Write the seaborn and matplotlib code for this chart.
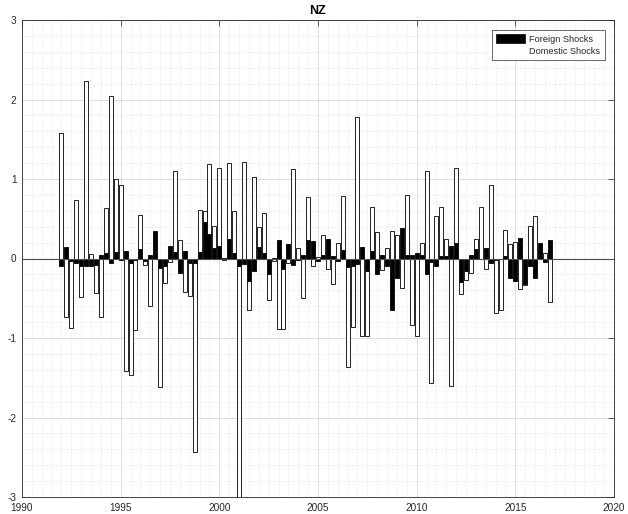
import numpy as np
import pandas as pd
import matplotlib
matplotlib.use("Agg")
import matplotlib.pyplot as plt
import seaborn as sns
from matplotlib.ticker import MultipleLocator, FixedLocator
from matplotlib.patches import Patch

# ---------------- data ----------------
title = "NZ"
legend_labels = ["Foreign Shocks", "Domestic Shocks"]
first_quarter = "1992Q1"
last_quarter = "2016Q4"

foreign = [
    -0.10, 0.15, -0.03, -0.06, -0.09, -0.10, -0.10, -0.08, 0.05, 0.07,
    -0.06, 0.08, -0.02, 0.09, -0.06, -0.02, 0.12, -0.03, 0.05, 0.35,
    -0.12, -0.10, 0.16, 0.08, -0.18, 0.09, -0.06, -0.06, 0.08, 0.46,
    0.31, 0.13, 0.16, 0.01, 0.24, 0.07, -0.10, -0.07, -0.28, -0.16,
    0.14, 0.07, -0.19, 0.01, 0.23, -0.13, 0.18, -0.08, -0.02, 0.04,
    0.23, 0.22, -0.03, 0.04, 0.25, 0.03, -0.03, 0.11, -0.11, -0.10,
    -0.07, 0.14, -0.16, 0.10, -0.20, 0.05, -0.10, -0.65, -0.24, 0.38,
    0.05, 0.05, 0.07, 0.04, -0.19, -0.05, -0.10, 0.03, 0.03, 0.16,
    0.19, -0.29, -0.16, 0.04, 0.12, -0.01, 0.13, -0.06, -0.02, -0.01,
    0.03, -0.25, -0.28, 0.26, -0.32, -0.09, -0.24, 0.19, -0.05, 0.23,
]
domestic = [
    1.58, -0.73, -0.85, 0.74, -0.39, 2.23, 0.06, -0.36, -0.73, 0.56,
    2.05, 0.92, 0.93, -1.42, -1.41, -0.88, 0.43, -0.05, -0.60, 0.00,
    -1.50, -0.21, -0.04, 1.02, 0.23, -0.42, -0.41, -2.38, 0.53, 0.14,
    0.88, 0.28, 0.98, -0.02, 0.96, 0.53, -3.30, 1.21, -0.37, 1.02,
    0.25, 0.50, -0.33, -0.03, -0.89, -0.76, -0.06, 1.13, 0.13, -0.50,
    0.54, -0.10, 0.02, 0.26, -0.13, -0.32, 0.20, 0.68, -1.26, -0.76,
    1.78, -0.98, -0.82, 0.55, 0.33, -0.14, 0.13, 0.34, 0.30, -0.37,
    0.75, -0.84, -0.97, 0.16, 1.10, -1.52, 0.54, 0.62, 0.21, -1.61,
    0.95, -0.16, -0.11, -0.18, 0.12, 0.65, -0.13, 0.92, -0.67, -0.64,
    0.33, 0.18, 0.21, -0.38, -0.01, 0.41, 0.53, 0.00, 0.07, -0.55,
]
x_ticks = [1990, 1995, 2000, 2005, 2010, 2015, 2020]
x_tick_labels = ["1990", "1995", "2000", "2005", "2010", "2015", "2020"]
y_ticks = [-3, -2, -1, 0, 1, 2, 3]
y_tick_labels = ["-3", "-2", "-1", "0", "1", "2", "3"]

# ---------------- build table ----------------
quarters = pd.period_range(first_quarter, last_quarter, freq="Q")
dates = np.array([q.year + (q.quarter - 1) / 4 for q in quarters], dtype=float)
f = np.array(foreign)
d = np.array(domestic)
# MATLAB-style stacking: positives stack on positives, negatives on negatives
dom_bottom = np.where(np.sign(f) == np.sign(d), f, 0.0)
df = pd.DataFrame({"date": dates, "foreign": f, "domestic": d, "bottom": dom_bottom})

# ---------------- style ----------------
sns.set_style("white")
plt.rcParams["font.family"] = ["Liberation Sans", "DejaVu Sans"]
plt.rcParams["axes.unicode_minus"] = False

W, H = 628, 514
fig = plt.figure(figsize=(W / 100, H / 100), dpi=100)
ax = fig.add_axes([22 / W, (H - 497) / H, (614 - 22) / W, (497 - 20) / H])

sns.barplot(data=df, x="date", y="foreign", native_scale=True, color="black",
            saturation=1, width=0.8, errorbar=None, edgecolor="black",
            linewidth=0.6, ax=ax, zorder=2)
ax.bar(df["date"], df["domestic"], bottom=df["bottom"], width=0.2,
       color="white", edgecolor="black", linewidth=0.6, zorder=2)

ax.axhline(0, color="#4d4d4d", lw=0.8, zorder=3)

ax.set_xlim(1990, 2020)
ax.set_ylim(-3, 3)
ax.xaxis.set_major_locator(FixedLocator(x_ticks))
ax.set_xticklabels(x_tick_labels)
ax.yaxis.set_major_locator(FixedLocator(y_ticks))
ax.set_yticklabels(y_tick_labels)
ax.xaxis.set_minor_locator(MultipleLocator(0.5))
ax.yaxis.set_minor_locator(MultipleLocator(0.2))

ax.set_axisbelow(True)
ax.grid(which="major", color="#d9d9d9", lw=0.6, ls="-")
ax.grid(which="minor", color="#dedede", lw=0.5, ls=(0, (1, 1.5)))

ax.tick_params(which="major", direction="in", top=True, right=True, length=4,
               width=0.5, color="#262626", labelsize=7.2, labelcolor="#262626", pad=4)
ax.tick_params(which="minor", length=0)
for s in ax.spines.values():
    s.set_color("#262626")
    s.set_linewidth(0.6)

ax.set_xlabel("")
ax.set_ylabel("")
ax.set_title(title, fontsize=9, fontweight="bold", color="black", pad=4)

handles = [Patch(facecolor="black", edgecolor="black", lw=0.5),
           Patch(facecolor="white", edgecolor="white", lw=0.5)]
leg = ax.legend(handles, legend_labels, loc="upper right",
                bbox_to_anchor=(604.5 / W, 1 - 30 / H), bbox_transform=fig.transFigure,
                borderaxespad=0, fontsize=6.6, frameon=True, fancybox=False,
                handlelength=3.2, handleheight=1.1, handletextpad=0.45,
                labelspacing=0.35, borderpad=0.45)
leg.get_frame().set_edgecolor("#262626")
leg.get_frame().set_linewidth(0.6)

fig.savefig("out.png", dpi=100)
